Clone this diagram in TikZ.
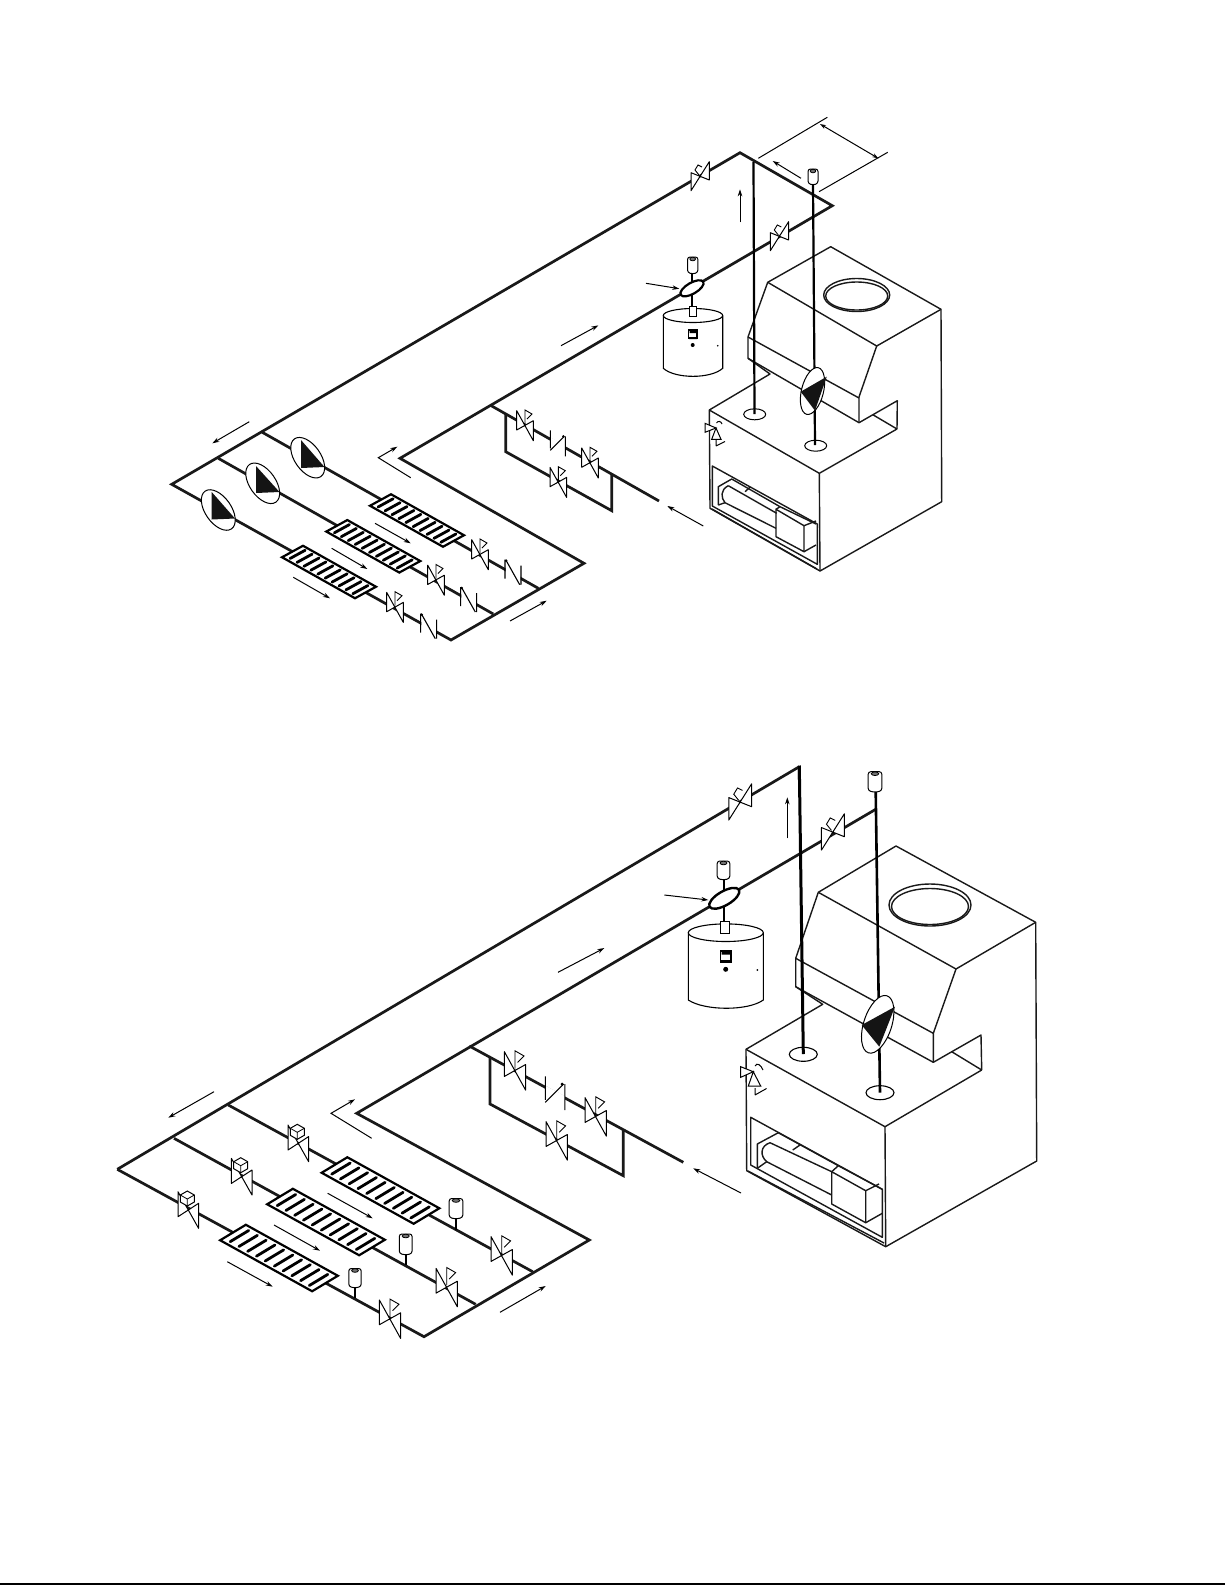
\documentclass[tikz,border=0pt]{standalone}
\usetikzlibrary{arrows.meta}
\tikzset{
  pipe/.style={line width=2.7pt,line join=miter,black!90},
  thin line/.style={line width=1.1pt,line join=round},
  box/.style={line width=1.4pt,line join=round,black!90},
  flow/.style={line width=1pt,-{Stealth[length=7pt,width=4.5pt]}},
  dimen/.style={line width=1pt},
  dimarrow/.style={line width=1pt,{Stealth[length=6pt,width=4pt]}-{Stealth[length=6pt,width=4pt]}},
  vlv/.style={line width=1pt,fill=white,line join=round},
  coilbar/.style={line width=2.8pt,line cap=round},
}
\newcommand\valveU[3]{\begin{scope}[shift={(#1,#2)},scale=#3]
  \draw[vlv] (-9,-3.3)--(9.3,4)--(9.3,-14.3)--(-9,14.7)--cycle;
  \draw[line width=.9pt] (-1,-1)--(-5,-6)--(-2,-11)--(2,-9);
  \end{scope}}
\newcommand\valveD[3]{\begin{scope}[shift={(#1,#2)},scale=#3]
  \draw[vlv] (-8.3,-14.3)--(8.3,15.7)--(8.3,-4.3)--(-8.3,5)--cycle;
  \draw[line width=.9pt] (0,-1)--(0,-15)--(7,-11)--(2,-6);
  \end{scope}}
\newcommand\valveM[2]{\begin{scope}[shift={(#1,#2)}]
  \draw[vlv] (-10.3,-18.3)--(10.3,18.3)--(10.3,-6.7)--(-10.3,6.7)--cycle;
  \draw[line width=1pt,fill=white] (-8,-15)--(-1,-19)--(6,-15)--(6,-8)--(-1,-4)--(-8,-8)--cycle;
  \draw[line width=.8pt] (-8,-15)--(-1,-11)--(6,-15) (-1,-11)--(-1,-4);
  \end{scope}}
\newcommand\checkA[3]{\begin{scope}[shift={(#1,#2)},scale=#3]
  \fill[white] (-8,-6)--(7,2)--(7,12)--(-8,4)--cycle;
  \draw[line width=1.1pt] (-8,-13)--(-8,5) (7,-7)--(7,13) (-8,7)--(6,-7);
  \fill (5,-7) circle (1.3);
  \end{scope}}
\newcommand\checkB[2]{\begin{scope}[shift={(#1,#2)}]
  \fill[white] (-7,-7)--(8,1)--(8,8)--(-7,0)--cycle;
  \draw[line width=1.1pt] (-7.7,-13)--(-7.7,6) (8.3,-7)--(8.3,12) (-7,-13)--(7,12);
  \fill (-6.5,-12) circle (1.3);
  \end{scope}}
% centre x, top, bottom, half width
\newcommand\ventTank[4]{%
  \draw[line width=1pt,fill=white,rounded corners=2.5pt] (#1-#4,#2+1)--(#1+#4,#2+1)--(#1+#4,#3-1.5)--(#1,#3)--(#1-#4,#3-1.5)--cycle;
  \draw[line width=.8pt,fill=black!55] (#1,#2+3) ellipse ({#4*.55} and 1.8);}
% centre x,y  long x,y  short x,y
\newcommand\coilUnit[6]{%
  \draw[line width=2.2pt,fill=white,line join=miter]
    ({#1-.5*#3-.5*#5},{#2-.5*#4-.5*#6})--({#1-.5*#3+.5*#5},{#2-.5*#4+.5*#6})--
    ({#1+.5*#3+.5*#5},{#2+.5*#4+.5*#6})--({#1+.5*#3-.5*#5},{#2+.5*#4-.5*#6})--cycle;
  \foreach \t in {-.43,-.335,-.24,-.145,-.05,.05,.145,.24,.335,.43}
    \draw[coilbar] ({#1+\t*#3-.36*#5},{#2+\t*#4-.36*#6})--({#1+\t*#3+.36*#5},{#2+\t*#4+.36*#6});}
% pump: x y angle long short ; triangle given by 3 points follows
\newcommand\pumpUnit[8]{%
  \draw[line width=1pt,fill=white,rotate around={#3:(#1,#2)}] (#1,#2) ellipse (#4 and #5);
  \fill[black!92] #6--#7--#8--cycle;}
\begin{document}
\begin{tikzpicture}[x=1pt,y=-1pt]
\useasboundingbox (0,0) rectangle (1225,1585);
\fill[white] (0,0) rectangle (1225,1585);

%%%%%%%%%%%%%%%%%%%%%%%%%%%%%% UPPER DIAGRAM
% air handling unit
\begin{scope}[box]
 \draw[fill=white] (830.7,246.7)--(941,309.3)--(941.7,501.7)--(820,571)--(710,508.3)--(709.3,410)--(770,374)--(748,358.3)--(748,337)--(767.7,282.3)--cycle;
 \draw (767.7,282.3)--(876.7,346)--(941,309.3);
 \draw (876.7,346)--(859,397)--(859,422.7);
 \draw (748,337)--(859,398);
 \draw (748,358.3)--(859,422.7)--(897.3,400.7)--(897,429);
 \draw (873.3,415)--(897,429);
 \draw (709.3,410)--(819.3,473.3)--(897,429);
 \draw (819.3,473.3)--(820,571);
 \draw[fill=white] (856.7,295) ellipse (33 and 16.5);
 \draw (856.7,296) ellipse (31 and 14);
 % opening
 \draw (712.3,466)--(817.3,524)--(817.3,564.3)--(712.3,506)--cycle;
 \draw (712,509)--(817,569);
 \draw (718.3,505)--(718.3,486.7)--(731.7,479)--(780,506.7);
 \draw (728.3,485.7)--(776.7,513.3);
 \draw (776,528.3)--(725,502.7) .. controls (721,498) and (720,490) .. (728.3,485.7);
 \draw (718.3,505)--(725,502.7);
 \draw (745,491.7)--(750,487.3);
 \draw (776,509.3)--(804,525.7)--(804,551.7)--(776,536.7)--cycle;
 \draw (776,509.3)--(780,506.7)--(816,524);
 \draw (804,525.7)--(816,521);
 \draw (804,551.7)--(816,545);
\end{scope}
% relief valve on unit
\begin{scope}[line width=1pt]
 \draw[fill=white] (705,423.3)--(705,432.3)--(716,428)--cycle;
 \draw[fill=white] (716,428)--(711.7,439.3)--(721,439.3)--cycle;
 \draw (716.5,423) .. controls (718,420.5) and (721,421) .. (722,424);
 \draw (716,446)--(725,441.5) (716,440)--(716,446);
\end{scope}
% tank
\draw[line width=1.1pt,fill=white] (663.3,315.5)--(663.3,368.3) .. controls (675,379) and (711,379) .. (722.7,368.3)--(722.7,315.5);
\draw[line width=1.1pt,fill=white] (693,315.5) ellipse (29.7 and 7);
\draw[line width=1.1pt] (688.5,330)rectangle(697,338.5);
\fill (689.5,331)rectangle(696,333) (689,337)rectangle(697,339);
\fill (692.7,345) circle (2);
\fill (717.7,345.7) circle (.9);
% pipes
\draw[pipe] (171.7,484.3)--(740,152.7)--(832.3,205.7)--(400,458.3)--(584,563.3)--(451,640)--cycle;
\draw[pipe] (218.3,458.3)--(493.3,614);
\draw[pipe] (262.3,432.3)--(538.3,588.3);
\draw[pipe] (490,405)--(659,501);
\draw[pipe] (505.7,414)--(505.7,451.7)--(611.7,510.7)--(611.7,474);
\draw[line width=2.2pt] (753.5,162)--(754.5,414);
\draw[line width=2.2pt] (813,185)--(815,445);
\draw[line width=2.2pt] (692.3,274)--(692.3,307);
% ellipses on the unit
\draw[line width=1pt] (754.7,414.3) ellipse (11 and 5.5);
\draw[line width=1pt] (815.7,445.7) ellipse (11 and 5.5);
% AHU pump
\pumpUnit{812.5}{391}{76}{24}{11}{(800.7,391.7)}{(826.7,376.7)}{(815,410.7)}
\draw[line width=2.2pt] (815,410)--(815,420);
% branch pumps
\pumpUnit{218.3}{510}{-55}{23}{13}{(211.7,492)}{(235,518.5)}{(211.7,519.5)}
\pumpUnit{262.7}{483.3}{-55}{23}{13}{(256,466)}{(279.5,492)}{(256,493)}
\pumpUnit{307.7}{457.7}{-55}{23}{13}{(301,440)}{(324.5,467)}{(301,468)}
% coils
\coilUnit{329}{572}{73}{41}{21}{-11.5}
\coilUnit{373.3}{546.3}{73}{41}{21}{-11.5}
\coilUnit{417}{520.5}{73}{41}{21}{-11.5}
% valves
\valveU{700}{176}{1}
\valveU{779.3}{236}{1}
\valveD{525}{425}{1}
\valveD{590}{462.3}{1}
\valveD{558.3}{481.7}{1}
\valveD{395}{606.7}{1}
\valveD{436}{579.5}{1}
\valveD{480}{554}{1}
\checkA{558.3}{443.3}{1}
\checkB{428.3}{626.7}
\checkB{468.3}{600}
\checkB{512.7}{572.7}
% separator and vent
\draw[line width=2.2pt,fill=white,rotate around={30:(692,288.3)}] (692,288.3) ellipse (13 and 5.5);
\ventTank{692.7}{256}{274}{5.2}
\ventTank{813}{168}{185}{5}
\draw[line width=1pt,fill=white] (689,306.7) rectangle (696,316.7);
% dimensions and flow
\draw[dimen] (758.3,158.3)--(827.3,117.3) (819,191.7)--(887.7,152.3);
\draw[dimarrow] (820,124)--(878.3,158.3);
\draw[flow] (801,178.3)--(772.7,161);
\draw[flow] (740,222.3)--(740,189.3);
\draw[flow] (646,283.3)--(679.3,288.7);
\draw[flow] (561,345.7)--(598.3,325.4);
\draw[flow] (249.3,421.7)--(212.3,443.3);
\draw[flow] (293.3,577.3)--(330,598.3);
\draw[flow] (331.7,548.3)--(367.3,569);
\draw[flow] (375,523.3)--(410.7,543.3);
\draw[flow,line join=miter] (410.7,477.7)--(378.3,457.7)--(397.3,446.7);
\draw[flow] (510,621)--(546.7,600.7);
\draw[flow] (703.3,526)--(667.3,506);

%%%%%%%%%%%%%%%%%%%%%%%%%%%%%% LOWER DIAGRAM
\begin{scope}[box]
 \draw[fill=white] (896,846)--(1035.7,922.3)--(1036.7,1161)--(885.7,1246.7)--(746.7,1170.7)--(746,1049.3)--(822.7,1004.3)--(795.7,986.7)--(795.7,958.3)--(818.3,892.3)--cycle;
 \draw (818.3,892.3)--(956,969)--(1035.7,922.3);
 \draw (956,969)--(933.3,1033.3)--(933.3,1062.3);
 \draw (795.7,958.3)--(933.3,1033.3);
 \draw (795.7,986.7)--(933.3,1062.3)--(981,1035)--(981.7,1070);
 \draw (951.7,1051.7)--(981.7,1070);
 \draw (746,1049.3)--(885,1126.7)--(981.7,1070);
 \draw (885,1126.7)--(885.7,1246.7);
 \draw[fill=white] (930,905) ellipse (41 and 21);
 \draw (930,906.5) ellipse (38.5 and 18);
 \draw (750.7,1117.3)--(882.3,1189.3)--(882.3,1237.3)--(750.7,1165)--cycle;
 \draw (748,1171)--(884,1243);
 \draw (757.3,1168.3)--(757.3,1144)--(778.3,1132.7)--(838.3,1165.7);
 \draw (770,1142.7)--(831.7,1171.7);
 \draw (831.7,1195)--(766.7,1161.7) .. controls (760,1156) and (760,1146) .. (770,1142.7);
 \draw (757.3,1168.3)--(766.7,1161.7);
 \draw (792.7,1150)--(800,1145);
 \draw (831.7,1171.7)--(865.7,1190.7)--(865.7,1222.7)--(831.7,1204)--cycle;
 \draw (831.7,1171.7)--(838.3,1165.7)--(882.3,1189.3);
 \draw (865.7,1190.7)--(879,1184);
 \draw (865.7,1222.7)--(882.3,1213.3);
\end{scope}
\begin{scope}[line width=1pt]
 \draw[fill=white] (740.7,1066.7)--(740.7,1077.3)--(753.3,1071.7)--cycle;
 \draw[fill=white] (753.3,1071.7)--(748.3,1086)--(760.7,1086)--cycle;
 \draw (755,1066) .. controls (757,1062) and (761,1065) .. (763,1070);
 \draw (755,1095)--(766.5,1088.5) (755,1088)--(755,1095);
\end{scope}
% tank
\draw[line width=1.1pt,fill=white] (688.3,932.7)--(688.3,1000) .. controls (705,1011) and (748,1011) .. (763.3,1000)--(763.3,932.7);
\draw[line width=1.1pt,fill=white] (725.8,932.7) ellipse (37.5 and 8.8);
\draw[line width=1.1pt] (720.5,951)rectangle(731,962);
\fill (721.5,952)rectangle(730,954.5) (720,960)rectangle(731.5,962.5);
\fill (725.7,969.3) circle (2.5);
\fill (757.3,970) circle (1);
% pipes
\draw[pipe] (117.3,1169.3)--(799.3,766.7) (799.3,766.7)--(799.3,780);
\draw[pipe] (117.3,1169.3)--(424,1336.7)--(589.3,1240)--(356.7,1113.3)--(875.7,809.3);
\draw[pipe] (174,1138.3)--(475.7,1304.3);
\draw[pipe] (228.3,1105)--(532.7,1271.7);
\draw[pipe] (469.3,1046)--(683.3,1162.3);
\draw[pipe] (490,1058)--(490,1104)--(623.3,1175.7)--(623.3,1130);
\draw[line width=3pt] (799.3,765.5)--(803.3,1054);
\draw[line width=2.6pt] (875.7,791.7)--(880,1092.7);
\draw[line width=2.4pt] (724,880)--(724,922);
\draw[line width=1.1pt] (803.3,1054.3) ellipse (14 and 7);
\draw[line width=1.1pt] (880,1092.7) ellipse (14 and 7);
\pumpUnit{877.7}{1024.3}{72}{30}{14}{(861.7,1025)}{(895,1006.7)}{(879.3,1046.7)}
\coilUnit{279}{1258}{92}{51}{25.7}{-15.5}
\coilUnit{326}{1222}{92}{51}{25.7}{-15.5}
\coilUnit{380.5}{1190.5}{92}{51}{25.7}{-15.5}
% valves
\valveU{740}{801.7}{1.25}
\valveU{832.7}{831.7}{1.25}
\valveD{515}{1070}{1.28}
\valveD{595.7}{1116}{1.28}
\valveD{556.7}{1140}{1.28}
\valveD{390}{1318.3}{1.28}
\valveD{446.7}{1286.7}{1.28}
\valveD{501.7}{1255}{1.28}
\checkA{555.7}{1093.3}{1.3}
\valveM{188.3}{1210}
\valveM{241.7}{1176.7}
\valveM{298.3}{1143.3}
% small tanks on branches
\draw[line width=2.2pt] (355,1288)--(355,1298.3) (405.7,1255)--(405.7,1265) (456,1219)--(456,1230);
\ventTank{355}{1267.5}{1288}{6.2}
\ventTank{405.7}{1233}{1255}{6.4}
\ventTank{456}{1197.5}{1219}{6.8}
% separator and vents
\draw[line width=2.4pt,fill=white,rotate around={30:(724.3,898.3)}] (724.3,898.3) ellipse (17 and 7);
\ventTank{723.5}{860}{880}{6.3}
\ventTank{875}{770.7}{792.3}{6.8}
\draw[line width=1pt,fill=white] (720,921.7) rectangle (729.3,933.3);
% flow
\draw[flow] (787.3,838.3)--(787.3,797.3);
\draw[flow] (664.3,895)--(708.3,900);
\draw[flow] (558,972.3)--(604.4,948);
\draw[flow] (214,1091.7)--(168.3,1117.7);
\draw[flow] (227.3,1261.7)--(272.7,1286.7);
\draw[flow] (274,1225)--(320,1250.7);
\draw[flow] (327.7,1193.3)--(372.7,1218.3);
\draw[flow,line join=miter] (371.7,1138.3)--(331,1113.3)--(355,1099.3);
\draw[flow] (500,1312.3)--(545.7,1286);
\draw[flow] (741,1193)--(693.3,1168.3);
% page rule
\draw[line width=1.5pt] (0,1584.2)--(1225,1584.2);
\end{tikzpicture}
\end{document}
